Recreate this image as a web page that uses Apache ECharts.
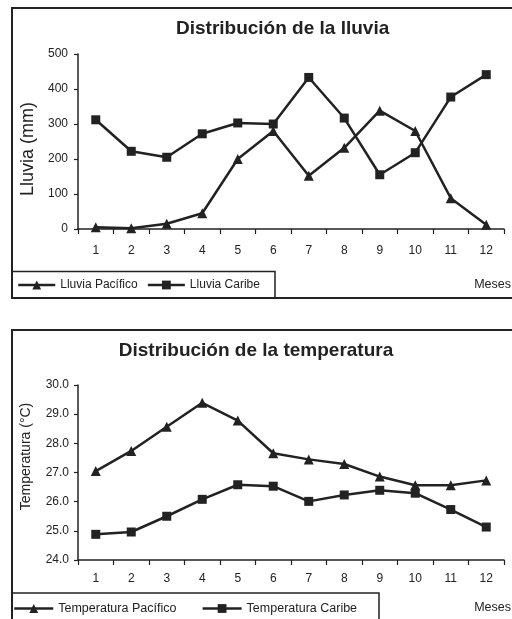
<!DOCTYPE html>
<html>
<head>
<meta charset="utf-8">
<script src="https://cdn.jsdelivr.net/npm/echarts@6/dist/echarts.min.js"></script>
<style>
  html, body { margin: 0; padding: 0; background: #fff; }
  #chart { width: 512px; height: 619px; }
</style>
</head>
<body>
<div id="chart"></div>
<script>
// months (x axis) shared by both charts
const months = ['1', '2', '3', '4', '5', '6', '7', '8', '9', '10', '11', '12']

// Distribución de la lluvia (mm)
const lluviaPacifico = [5, 2, 15, 45, 200, 280, 152, 232, 338, 280, 88, 12]
const lluviaCaribe = [312, 222, 205, 272, 303, 300, 433, 317, 155, 218, 377, 441]

// Distribución de la temperatura (°C)
const tempPacifico = [27.05, 27.74, 28.57, 29.39, 28.78, 27.66, 27.45, 27.29, 26.86, 26.56, 26.56, 26.73]
const tempCaribe = [24.88, 24.96, 25.5, 26.08, 26.58, 26.53, 26.01, 26.23, 26.39, 26.29, 25.73, 25.13]

const ink = '#222'
const font = 'Liberation Sans, Arial, sans-serif'

const chart = echarts.init(document.getElementById('chart'), null, { renderer: 'canvas' })

function catAxis (gridIndex, labelMargin) {
  return {
    type: 'category',
    gridIndex: gridIndex,
    data: months,
    boundaryGap: true,
    axisLine: { lineStyle: { color: ink, width: 1.5 } },
    axisTick: { show: true, length: 5, alignWithLabel: false, lineStyle: { color: ink, width: 1.2 } },
    axisLabel: { color: ink, fontSize: 12, fontFamily: font, margin: labelMargin }
  }
}

function valAxis (gridIndex, opts) {
  return Object.assign({
    type: 'value',
    gridIndex: gridIndex,
    nameLocation: 'middle',
    nameRotate: 90,
    axisLine: { show: true, lineStyle: { color: ink, width: 1.5 } },
    axisTick: { show: true, length: 4, lineStyle: { color: ink, width: 1.2 } },
    splitLine: { show: false }
  }, opts)
}

function lineSeries (name, data, symbol, idx) {
  return {
    name: name,
    type: 'line',
    xAxisIndex: idx,
    yAxisIndex: idx,
    data: data,
    symbol: symbol,
    symbolSize: symbol === 'rect' ? 9 : 10,
    showAllSymbol: true,
    lineStyle: { color: ink, width: 2.5 },
    itemStyle: { color: ink },
    emphasis: { disabled: true },
    animation: false
  }
}

const legendText = { color: ink, fontFamily: font }

chart.setOption({
  animation: false,
  textStyle: { fontFamily: font },
  title: [
    {
      text: 'Distribución de la lluvia',
      left: 176,
      top: 19,
      padding: 0,
      textStyle: { color: ink, fontSize: 19, fontWeight: 'bold', fontFamily: font }
    },
    {
      text: 'Distribución de la temperatura',
      left: 'center',
      top: 341,
      padding: 0,
      textStyle: { color: ink, fontSize: 19, fontWeight: 'bold', fontFamily: font }
    }
  ],
  legend: [
    {
      data: ['Lluvia Pacífico', 'Lluvia Caribe'],
      left: 17,
      top: 279,
      padding: 0,
      itemWidth: 37,
      itemHeight: 11,
      itemGap: 9,
      selectedMode: false,
      lineStyle: { color: ink, width: 2.5 },
      itemStyle: { color: ink },
      textStyle: Object.assign({ fontSize: 12 }, legendText)
    },
    {
      data: ['Temperatura Pacífico', 'Temperatura Caribe'],
      left: 13,
      top: 602,
      padding: 0,
      itemWidth: 39,
      itemHeight: 11,
      itemGap: 25,
      selectedMode: false,
      lineStyle: { color: ink, width: 2.5 },
      itemStyle: { color: ink },
      textStyle: Object.assign({ fontSize: 12.5 }, legendText)
    }
  ],
  grid: [
    { left: 78, right: 8, top: 54, height: 175 },
    { left: 78, right: 8, top: 385, height: 175 }
  ],
  xAxis: [catAxis(0, 16), catAxis(1, 13)],
  yAxis: [
    valAxis(0, {
      min: 0,
      max: 500,
      interval: 100,
      name: 'Lluvia (mm)',
      nameGap: 33,
      nameTextStyle: { color: ink, fontSize: 18, fontFamily: font, padding: [0, 15, 0, 0] },
      axisLabel: { color: ink, fontSize: 12, fontFamily: font, margin: 10 }
    }),
    valAxis(1, {
      min: 24,
      max: 30,
      interval: 1,
      name: 'Temperatura (°C)',
      nameGap: 45,
      nameTextStyle: { color: ink, fontSize: 14, fontFamily: font, padding: [0, 0, 0, 32] },
      axisLabel: {
        color: ink,
        fontSize: 12,
        fontFamily: font,
        margin: 9,
        formatter: v => v.toFixed(1)
      }
    })
  ],
  series: [
    lineSeries('Lluvia Pacífico', lluviaPacifico, 'triangle', 0),
    lineSeries('Lluvia Caribe', lluviaCaribe, 'rect', 0),
    lineSeries('Temperatura Pacífico', tempPacifico, 'triangle', 1),
    lineSeries('Temperatura Caribe', tempCaribe, 'rect', 1)
  ],
  graphic: [
    // outer frames (right / bottom edges run off the picture)
    { type: 'rect', shape: { x: 12, y: 8, width: 520, height: 290 }, style: { fill: 'none', stroke: ink, lineWidth: 2 }, silent: true },
    { type: 'rect', shape: { x: 12, y: 330, width: 520, height: 300 }, style: { fill: 'none', stroke: ink, lineWidth: 2 }, silent: true },
    // legend boxes
    { type: 'rect', shape: { x: 12, y: 271.5, width: 263, height: 26.5 }, style: { fill: 'none', stroke: ink, lineWidth: 1.5 }, silent: true },
    { type: 'rect', shape: { x: 12, y: 593, width: 367, height: 40 }, style: { fill: 'none', stroke: ink, lineWidth: 1.5 }, silent: true },
    // x axis title
    { type: 'text', right: 1, top: 278, style: { text: 'Meses', fill: ink, fontSize: 12.5, fontFamily: font }, silent: true },
    { type: 'text', right: 1, top: 601, style: { text: 'Meses', fill: ink, fontSize: 12.5, fontFamily: font }, silent: true }
  ]
})
</script>
</body>
</html>
